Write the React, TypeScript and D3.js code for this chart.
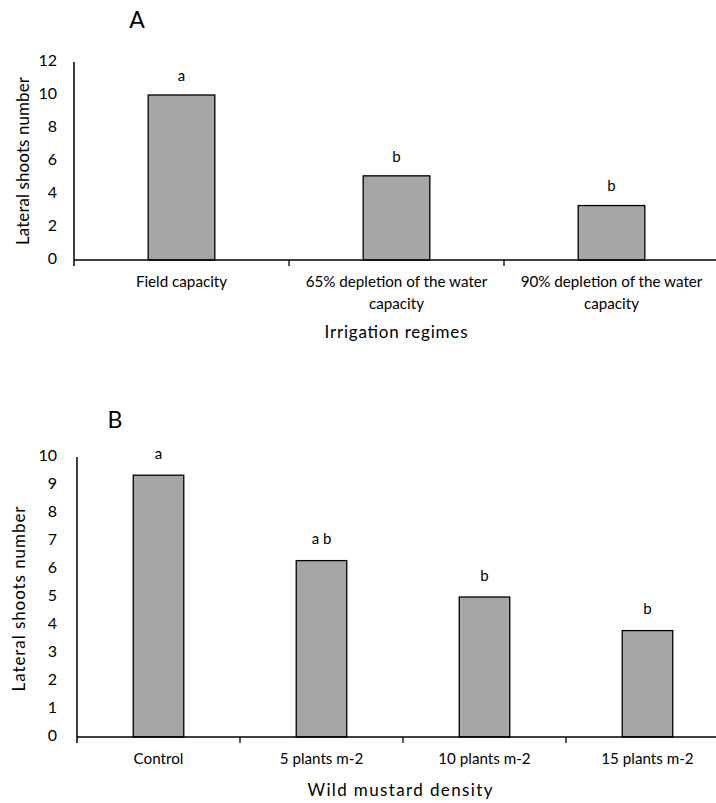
import React, {useRef, useEffect} from 'react';
import * as d3 from 'd3';

// panel A - irrigation regimes
const categoriesA = ['Field capacity', '65% depletion of the water capacity', '90% depletion of the water capacity'];
const valuesA = [10, 5.1, 3.3];
const lettersA = ['a', 'b', 'b'];
const ticksA = [0, 2, 4, 6, 8, 10, 12];

// panel B - wild mustard density
const categoriesB = ['Control', '5 plants m-2', '10 plants m-2', '15 plants m-2'];
const valuesB = [9.35, 6.3, 5.0, 3.8];
const lettersB = ['a', 'a b', 'b', 'b'];
const ticksB = [0, 1, 2, 3, 4, 5, 6, 7, 8, 9, 10];

const FONT = 'Lato, "Liberation Sans", Arial, sans-serif';

function wrap(sel, width) {
  sel.each(function () {
    const text = d3.select(this);
    const words = text.text().split(' ');
    const x = text.attr('x');
    const y = text.attr('y');
    text.text(null);
    let line = [];
    let lineNo = 0;
    let tspan = text.append('tspan').attr('x', x).attr('y', y);
    words.forEach(w => {
      line.push(w);
      tspan.text(line.join(' '));
      if (tspan.node().getComputedTextLength() > width && line.length > 1) {
        line.pop();
        tspan.text(line.join(' '));
        line = [w];
        lineNo++;
        tspan = text.append('tspan').attr('x', x).attr('y', +y + lineNo * 22).text(w);
      }
    });
  });
}

function drawPanel(svg, opt) {
  const g = svg.append('g');
  const x = d3.scaleBand().domain(opt.categories).range(opt.xRange).paddingInner(0).paddingOuter(0);
  const y = d3.scaleLinear().domain([0, opt.max]).range(opt.yRange);
  const bw = x.bandwidth() * 0.31;
  const x0 = opt.xRange[0];
  const base = opt.yRange[0];

  // panel letter
  g.append('text')
    .attr('x', opt.letterPos[0]).attr('y', opt.letterPos[1])
    .attr('font-size', 23).attr('text-anchor', 'middle').attr('dominant-baseline', 'middle')
    .text(opt.letter);

  // y axis line + tick labels (no tick marks)
  g.append('line')
    .attr('x1', x0).attr('x2', x0)
    .attr('y1', y(opt.max)).attr('y2', base + 6)
    .attr('stroke', '#000').attr('stroke-width', 1.5);
  g.selectAll('.ytick').data(opt.ticks).enter().append('text')
    .attr('x', 57).attr('y', d => y(d))
    .attr('text-anchor', 'end').attr('dominant-baseline', 'middle')
    .attr('font-size', 16)
    .text(d => d);

  // bars
  g.selectAll('.bar').data(opt.values).enter().append('rect')
    .attr('x', (d, i) => x(opt.categories[i]) + (x.bandwidth() - bw) / 2)
    .attr('y', d => y(d))
    .attr('width', bw)
    .attr('height', d => base - y(d))
    .attr('fill', '#a6a6a6')
    .attr('stroke', '#000').attr('stroke-width', 1.3);

  // significance letters
  g.selectAll('.sig').data(opt.values).enter().append('text')
    .attr('x', (d, i) => x(opt.categories[i]) + x.bandwidth() / 2)
    .attr('y', d => y(d) - opt.sigGap)
    .attr('text-anchor', 'middle').attr('dominant-baseline', 'middle')
    .attr('font-size', 15)
    .text((d, i) => opt.letters[i]);

  // x axis line + category boundary ticks
  g.append('line')
    .attr('x1', x0).attr('x2', opt.xRange[1])
    .attr('y1', base).attr('y2', base)
    .attr('stroke', '#000').attr('stroke-width', 1.5);
  g.selectAll('.xtick').data(opt.categories.slice(1)).enter().append('line')
    .attr('x1', d => x(d)).attr('x2', d => x(d))
    .attr('y1', base).attr('y2', base + 6)
    .attr('stroke', '#000').attr('stroke-width', 1.3);

  g.selectAll('.xlab').data(opt.categories).enter().append('text')
    .attr('x', d => x(d) + x.bandwidth() / 2)
    .attr('y', base + opt.labelGap)
    .attr('text-anchor', 'middle').attr('dominant-baseline', 'middle')
    .attr('font-size', 15.2)
    .text(d => d)
    .call(wrap, x.bandwidth() - 12);

  // axis titles
  g.append('text')
    .attr('x', opt.xTitlePos[0]).attr('y', opt.xTitlePos[1])
    .attr('text-anchor', 'middle').attr('dominant-baseline', 'middle')
    .attr('font-size', 17)
    .attr('textLength', opt.xTitleLen).attr('lengthAdjust', 'spacing')
    .text(opt.xTitle);
  g.append('text')
    .attr('transform', `translate(${opt.yTitlePos[0]},${opt.yTitlePos[1]}) rotate(-90)`)
    .attr('text-anchor', 'middle').attr('dominant-baseline', 'middle')
    .attr('font-size', 17)
    .attr('textLength', opt.yTitleLen).attr('lengthAdjust', 'spacing')
    .text('Lateral shoots number');
}

export default function App() {
  const chartRef = useRef(null);

  useEffect(() => {
    const ele = chartRef.current;
    d3.select(ele).selectAll('*').remove();
    const svg = d3.select(ele).append('svg')
      .attr('width', 716).attr('height', 803)
      .style('display', 'block')
      .attr('font-family', FONT)
      .attr('fill', '#000');
    svg.append('rect').attr('width', 716).attr('height', 803).attr('fill', '#fff');

    drawPanel(svg, {
      categories: categoriesA, values: valuesA, letters: lettersA, ticks: ticksA,
      max: 12, xRange: [74, 719], yRange: [260, 62],
      letter: 'A', letterPos: [137, 22], sigGap: 18, labelGap: 23,
      xTitle: 'Irrigation regimes', xTitlePos: [396, 334], xTitleLen: 143,
      yTitlePos: [25, 161], yTitleLen: 168
    });

    drawPanel(svg, {
      categories: categoriesB, values: valuesB, letters: lettersB, ticks: ticksB,
      max: 10, xRange: [77, 729], yRange: [737, 457],
      letter: 'B', letterPos: [115, 422], sigGap: 20, labelGap: 23,
      xTitle: 'Wild mustard density', xTitlePos: [400, 792], xTitleLen: 185,
      yTitlePos: [21, 599], yTitleLen: 185
    });
  }, []);

  return (
    <div ref={chartRef} style={{position: 'absolute', top: 0, left: 0}}></div>
  );
}
